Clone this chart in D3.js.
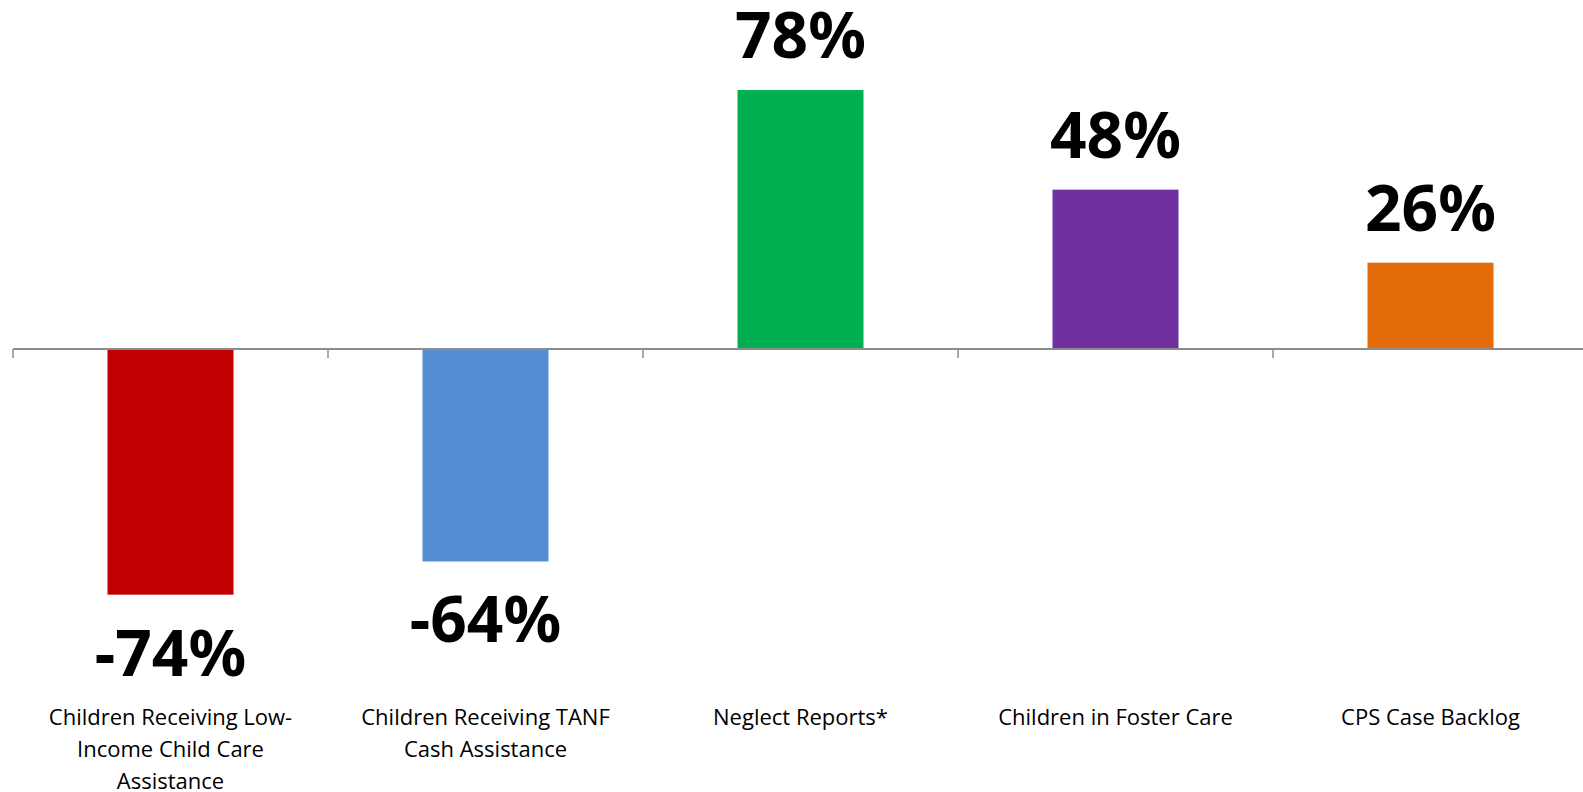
<!DOCTYPE html>
<html>
<head>
<meta charset="utf-8">
<script src="https://cdn.jsdelivr.net/npm/d3@7"></script>
<style>
  body { margin: 0; background: #fff; }
  svg { display: block; }
</style>
</head>
<body>
<div id="chart"></div>
<script>
// data
const categories = ['Children Receiving Low-Income Child Care Assistance',
  'Children Receiving TANF Cash Assistance',
  'Neglect Reports*',
  'Children in Foster Care',
  'CPS Case Backlog']
const labelLines = [
  ['Children Receiving Low-', 'Income Child Care', 'Assistance'],
  ['Children Receiving TANF', 'Cash Assistance'],
  ['Neglect Reports*'],
  ['Children in Foster Care'],
  ['CPS Case Backlog']
]
const values = [-74, -64, 78, 48, 26]
const colors = ['#c00000', '#558ed5', '#00b050', '#7030a0', '#e46c0a']

// canvas
const width = 1583,
  height = 792,
  zeroY = 349,
  pxPerPct = 3.32

const svg = d3.select('#chart')
  .append('svg')
  .attr('width', width)
  .attr('height', height)

const x = d3.scaleBand()
  .domain(categories)
  .range([13, 1588])
  .paddingInner(0.6)
  .paddingOuter(0.3)

const y = d3.scaleLinear()
  .domain([-80, 80])
  .range([zeroY + 80 * pxPerPct, zeroY - 80 * pxPerPct])

// bars
svg.selectAll('rect.bar')
  .data(values)
  .enter()
  .append('rect')
  .attr('class', 'bar')
  .attr('x', (d, i) => x(categories[i]))
  .attr('width', x.bandwidth())
  .attr('y', d => Math.min(y(d), y(0)))
  .attr('height', d => Math.abs(y(d) - y(0)))
  .attr('fill', (d, i) => colors[i])

// axis line at zero, ticks at band edges
const edges = d3.range(categories.length + 1).map(i => 13 + i * (1575 / categories.length))
svg.append('line')
  .attr('x1', 13).attr('x2', 1588)
  .attr('y1', y(0)).attr('y2', y(0))
  .attr('stroke', '#8c8c8c')
  .attr('stroke-width', 2)
svg.selectAll('line.tick')
  .data(edges)
  .enter()
  .append('line')
  .attr('class', 'tick')
  .attr('x1', d => d).attr('x2', d => d)
  .attr('y1', y(0)).attr('y2', y(0) + 9)
  .attr('stroke', '#8c8c8c')
  .attr('stroke-width', 1.5)

// value labels
svg.selectAll('text.value')
  .data(values)
  .enter()
  .append('text')
  .attr('class', 'value')
  .attr('x', (d, i) => x(categories[i]) + x.bandwidth() / 2)
  .attr('y', d => d >= 0 ? y(d) - 32 : y(d) + 81)
  .attr('text-anchor', 'middle')
  .style('font-family', '"Noto Sans", "Open Sans", sans-serif')
  .style('font-weight', 700)
  .style('font-size', '64px')
  .attr('fill', '#000')
  .text(d => d + '%')

// category labels
const cat = svg.selectAll('text.cat')
  .data(labelLines)
  .enter()
  .append('text')
  .attr('class', 'cat')
  .attr('text-anchor', 'middle')
  .style('font-family', '"Open Sans", "Noto Sans", sans-serif')
  .style('font-size', '22px')
  .attr('fill', '#000')

cat.selectAll('tspan')
  .data((d, i) => d.map(t => ({ t, cx: x(categories[i]) + x.bandwidth() / 2 })))
  .enter()
  .append('tspan')
  .attr('x', d => d.cx)
  .attr('y', (d, j) => 725 + j * 32)
  .text(d => d.t)
</script>
</body>
</html>
